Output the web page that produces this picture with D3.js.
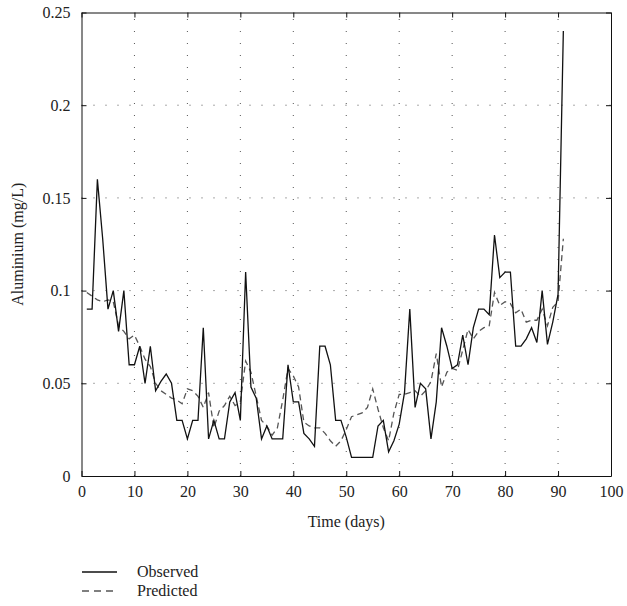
<!DOCTYPE html>
<html>
<head>
<meta charset="utf-8">
<script src="https://cdn.jsdelivr.net/npm/d3@7/dist/d3.min.js"></script>
<style>
  body { margin: 0; background: #fff; }
  text { font-family: "Liberation Serif", "DejaVu Serif", serif; fill: #222; }
</style>
</head>
<body>
<div id="chart"></div>
<script>
(function(){

//data, one value per day
var days = d3.range(1, 92);

var observed = [0.09, 0.09, 0.16, 0.128, 0.09, 0.10, 0.078, 0.10, 0.06, 0.06,
  0.07, 0.05, 0.07, 0.046, 0.051, 0.055, 0.05, 0.03, 0.03, 0.02,
  0.03, 0.03, 0.08, 0.02, 0.03, 0.02, 0.02, 0.04, 0.045, 0.03,
  0.11, 0.048, 0.042, 0.02, 0.027, 0.02, 0.02, 0.02, 0.06, 0.04,
  0.04, 0.023, 0.02, 0.016, 0.07, 0.07, 0.06, 0.03, 0.03, 0.021,
  0.01, 0.01, 0.01, 0.01, 0.01, 0.027, 0.03, 0.013, 0.019, 0.028,
  0.045, 0.09, 0.037, 0.05, 0.047, 0.02, 0.04, 0.08, 0.07, 0.058,
  0.06, 0.076, 0.06, 0.08, 0.09, 0.09, 0.087, 0.13, 0.107, 0.11,
  0.11, 0.07, 0.07, 0.074, 0.08, 0.072, 0.10, 0.071, 0.083, 0.098,
  0.24];

var predicted = [0.099, 0.097, 0.095, 0.094, 0.095, 0.094, 0.081, 0.078, 0.074, 0.076,
  0.070, 0.063, 0.059, 0.050, 0.046, 0.044, 0.042, 0.041, 0.039, 0.047,
  0.046, 0.043, 0.037, 0.045, 0.026, 0.035, 0.038, 0.043, 0.038, 0.040,
  0.062, 0.056, 0.043, 0.030, 0.027, 0.022, 0.026, 0.041, 0.058, 0.054,
  0.048, 0.029, 0.027, 0.026, 0.026, 0.023, 0.019, 0.016, 0.019, 0.025,
  0.032, 0.033, 0.034, 0.037, 0.047, 0.036, 0.026, 0.019, 0.034, 0.044,
  0.044, 0.045, 0.046, 0.043, 0.046, 0.051, 0.066, 0.048, 0.056, 0.058,
  0.057, 0.068, 0.079, 0.074, 0.078, 0.080, 0.081, 0.099, 0.092, 0.094,
  0.093, 0.088, 0.090, 0.083, 0.084, 0.084, 0.090, 0.081, 0.091, 0.094,
  0.128];

var xTicks = [0, 10, 20, 30, 40, 50, 60, 70, 80, 90, 100];
var yTicks = [0, 0.05, 0.1, 0.15, 0.2, 0.25];
var yTickLabels = ["0", "0.05", "0.1", "0.15", "0.2", "0.25"];
var legendNames = ["Observed", "Predicted"];

//dimensions
var width = 627;
var height = 606;
var left = 81.5, right = 611, top = 12.5, bottom = 476;

var svg = d3.select("#chart")
  .append("svg")
  .attr("width", width)
  .attr("height", height)

var x = d3.scaleLinear().domain([0, 100]).range([left, right])
var y = d3.scaleLinear().domain([0, 0.25]).range([bottom, top])

//dotted grid
svg.append("g")
  .selectAll("line")
  .data(xTicks.slice(1, -1))
  .enter().append("line")
  .attr("x1", function(d){ return x(d) })
  .attr("x2", function(d){ return x(d) })
  .attr("y1", bottom)
  .attr("y2", top)
  .attr("stroke", "#555")
  .attr("stroke-width", 1)
  .attr("stroke-dasharray", "1,11")

svg.append("g")
  .selectAll("line")
  .data(yTicks.slice(1, -1))
  .enter().append("line")
  .attr("x1", left)
  .attr("x2", right)
  .attr("y1", function(d){ return y(d) })
  .attr("y2", function(d){ return y(d) })
  .attr("stroke", "#555")
  .attr("stroke-width", 1)
  .attr("stroke-dasharray", "1,11")

//axes, ticks point inward (matlab style)
var tickLen = 5;
svg.append("g")
  .attr("transform", "translate(0," + bottom + ")")
  .call(d3.axisBottom(x).tickValues(xTicks).tickSizeInner(-tickLen).tickSizeOuter(0).tickPadding(10))
svg.append("g")
  .attr("transform", "translate(0," + top + ")")
  .call(d3.axisTop(x).tickValues(xTicks).tickSizeInner(-tickLen).tickSizeOuter(0).tickFormat(""))
svg.append("g")
  .attr("transform", "translate(" + left + ",0)")
  .call(d3.axisLeft(y).tickValues(yTicks).tickSizeInner(-tickLen).tickSizeOuter(0).tickPadding(11)
    .tickFormat(function(d, i){ return yTickLabels[i] }))
svg.append("g")
  .attr("transform", "translate(" + right + ",0)")
  .call(d3.axisRight(y).tickValues(yTicks).tickSizeInner(-tickLen).tickSizeOuter(0).tickFormat(""))

svg.selectAll(".domain").attr("stroke", "#111")
svg.selectAll(".tick line").attr("stroke", "#111")
svg.selectAll(".tick text")
  .style("font-family", "'Liberation Serif', 'DejaVu Serif', serif")
  .style("font-size", "16px")
  .attr("fill", "#222")

//the two series
var line = d3.line()
  .x(function(d, i){ return x(days[i]) })
  .y(function(d){ return y(d) })

svg.append("path")
  .datum(predicted)
  .attr("fill", "none")
  .attr("stroke", "#555")
  .attr("stroke-width", 1.3)
  .attr("stroke-dasharray", "6,4")
  .attr("d", line)

svg.append("path")
  .datum(observed)
  .attr("fill", "none")
  .attr("stroke", "#111")
  .attr("stroke-width", 1.3)
  .attr("d", line)

//axis titles
svg.append("text")
  .attr("x", (left + right) / 2)
  .attr("y", 527)
  .attr("text-anchor", "middle")
  .style("font-size", "16px")
  .text("Time (days)")

svg.append("text")
  .attr("transform", "translate(23," + ((top + bottom) / 2) + ") rotate(-90)")
  .attr("text-anchor", "middle")
  .style("font-size", "16px")
  .text("Aluminium (mg/L)")

//legend under the chart
var legend = svg.selectAll(".legend")
  .data(legendNames)
  .enter().append("g")
  .attr("class", "legend")
  .attr("transform", function(d, i){ return "translate(82," + (572 + i * 19) + ")" })

legend.append("line")
  .attr("x1", 0)
  .attr("x2", 35)
  .attr("stroke", function(d, i){ return i == 0 ? "#111" : "#555" })
  .attr("stroke-width", 1.3)
  .attr("stroke-dasharray", function(d, i){ return i == 0 ? null : "7,5" })

legend.append("text")
  .attr("x", 55)
  .attr("y", 5)
  .style("font-size", "16px")
  .text(function(d){ return d })

})();
</script>
</body>
</html>
